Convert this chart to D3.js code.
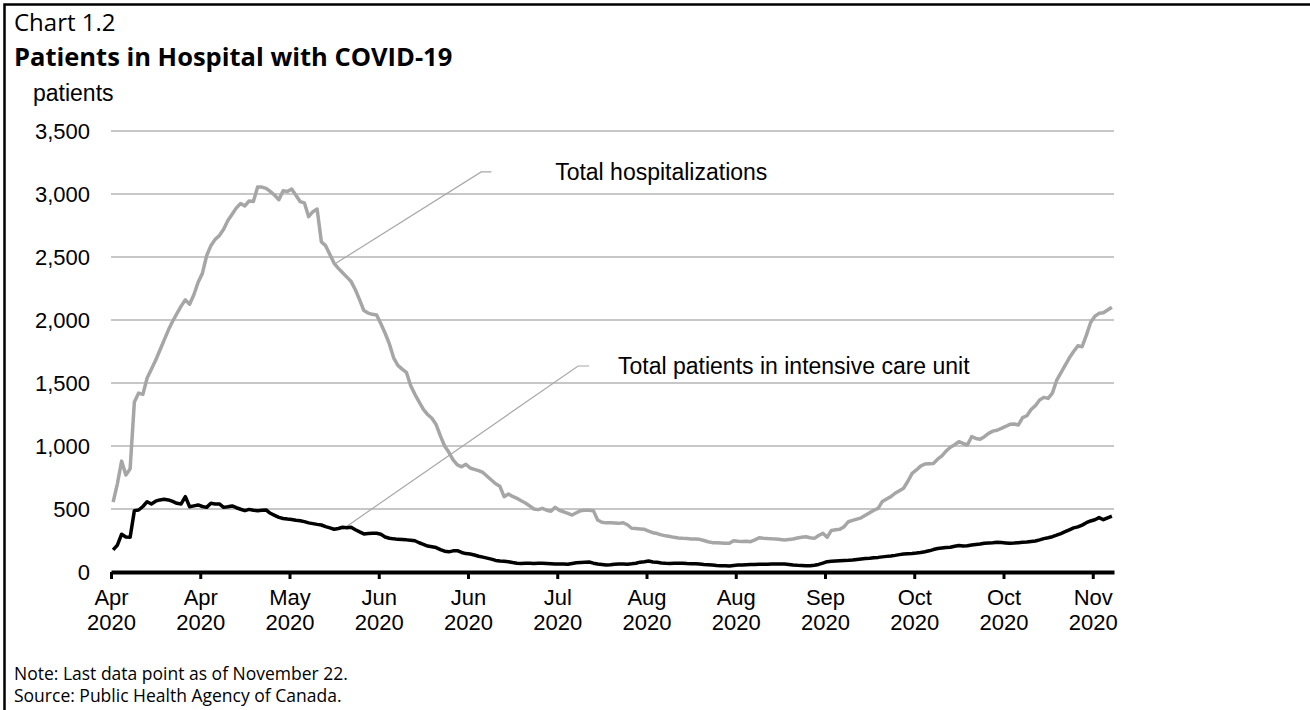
<!DOCTYPE html>
<html lang='en'>
  <meta charset='utf-8'>
  <style>
    body{
      margin: 0;
      background: #fff;
    }
    svg{
      display: block;
    }
    text{
      font-family: 'Liberation Sans', Arial, sans-serif;
      font-size: 22px;
      fill: #000;
    }
    text.head{
      font-family: 'Open Sans', 'Noto Sans', sans-serif;
    }
    text.big{
      font-size: 23px;
    }
    .grid line{
      stroke: #b4b4b4;
      stroke-width: 1.5;
    }
  </style>
  <body>
    <svg class='chart' width='1310' height='710'></svg>

    <script src='https://d3js.org/d3.v7.min.js'></script>
    <script>
      // daily values, Apr 1 2020 .. Nov 22 2020
      const hospitalized = [
        555, 700, 880, 770, 820, 1350, 1420, 1410, 1540, 1610,
        1680, 1760, 1840, 1920, 1990, 2050, 2110, 2160, 2125, 2200,
        2300, 2370, 2510, 2590, 2640, 2670, 2720, 2790, 2840, 2890,
        2925, 2905, 2945, 2940, 3055, 3055, 3045, 3020, 2990, 2955,
        3025, 3020, 3040, 2990, 2940, 2930, 2820, 2860, 2880, 2620,
        2590, 2520, 2450, 2410, 2375, 2340, 2305, 2240, 2160, 2075,
        2055, 2045, 2040, 1970, 1895, 1810, 1700, 1640, 1610, 1585,
        1480, 1410, 1350, 1290, 1250, 1220, 1170, 1080, 1000, 950,
        890, 850, 835, 855, 825, 815, 805, 790, 760, 730,
        700, 680, 598, 619, 600, 585, 565, 548, 525, 500,
        495, 505, 490, 482, 513, 490, 478, 465, 452, 470,
        487, 490, 490, 487, 413, 395, 390, 390, 388, 386,
        391, 375, 347, 345, 342, 339, 325, 312, 305, 295,
        287, 282, 275, 270, 267, 265, 262, 262, 259, 250,
        240, 233, 232, 230, 228, 228, 248, 244, 242, 244,
        241, 255, 272, 268, 265, 263, 262, 258, 254, 258,
        262, 270, 275, 280, 272, 267, 290, 307, 275, 330,
        335, 339, 360, 399, 410, 420, 430, 450, 470, 490,
        505, 560, 580, 598, 625, 645, 665, 720, 783, 810,
        840, 857, 860, 862, 895, 921, 960, 990, 1010, 1034,
        1020, 1008, 1074, 1060, 1053, 1074, 1100, 1118, 1125, 1140,
        1155, 1172, 1175, 1167, 1225, 1240, 1290, 1320, 1365, 1386,
        1378, 1420, 1520, 1580, 1640, 1700, 1750, 1795, 1788, 1880,
        1980, 2030, 2053, 2058, 2080, 2101
      ]
      const icu = [
        175, 214, 300, 278, 275, 487, 492, 520, 558, 540,
        562, 572, 577, 572, 560, 545, 540, 598, 518, 525,
        532, 520, 513, 545, 540, 540, 513, 518, 524, 510,
        498, 487, 497, 490, 487, 490, 492, 466, 450, 434,
        425, 420, 416, 410, 407, 400, 390, 384, 378, 373,
        360, 350, 339, 345, 355, 352, 355, 335, 318, 302,
        305, 307, 307, 300, 278, 268, 263, 259, 257, 255,
        252, 248, 232, 220, 206, 200, 194, 178, 165, 160,
        168, 169, 155, 146, 143, 135, 125, 118, 110, 102,
        92, 88, 85, 82, 75, 69, 68, 70, 69, 68,
        70, 69, 67, 65, 63, 64, 63, 62, 68, 74,
        76, 78, 79, 70, 63, 60, 56, 58, 62, 63,
        63, 62, 65, 69, 78, 82, 87, 80, 77, 72,
        69, 68, 69, 70, 69, 67, 66, 65, 63, 60,
        58, 56, 52, 50, 49, 48, 52, 55, 56, 58,
        60, 60, 61, 62, 62, 63, 63, 64, 63, 60,
        56, 53, 52, 50, 50, 54, 60, 70, 82, 85,
        88, 90, 92, 93, 95, 100, 104, 108, 110, 113,
        116, 120, 124, 127, 132, 138, 143, 145, 147, 150,
        155, 161, 168, 178, 186, 190, 194, 196, 204, 210,
        206, 208, 214, 218, 222, 228, 230, 232, 236, 234,
        231, 228, 230, 233, 236, 238, 242, 246, 255, 265,
        272, 280, 292, 305, 320, 335, 350, 358, 372, 391,
        405, 415, 432, 415, 430, 444
      ]
      const yTicks = [0, 500, 1000, 1500, 2000, 2500, 3000, 3500]
      const tickStepDays = 21
      const tickCount = 12

      // labels with leader lines, in days after Apr 1 and patients
      const hospLabel = {text: 'Total hospitalizations', at: [104, 3175], leader: [[52.4, 2450], [86.6, 3175], [89, 3175]]}
      const icuLabel = {text: 'Total patients in intensive care unit', at: [118.8, 1635], leader: [[54, 340], [109.4, 1635], [112, 1635]]}

      const start = Date.UTC(2020, 3, 1)
      const DAY = 864e5
      const dayToDate = (d) => new Date(start + (d + 0.5) * DAY)

      const svg = d3.select('svg.chart')

      const x = d3.scaleUtc()
        .domain([new Date(start), new Date(Date.UTC(2020, 10, 23))])
        .range([111, 1114])
      const y = d3.scaleLinear()
        .domain([0, 3500])
        .range([572, 131])

      // frame
      svg.append('rect')
        .attr('x', 4.5).attr('y', 4.5)
        .attr('width', 1400).attr('height', 800)
        .attr('fill', 'none')
        .attr('stroke', '#000')
        .attr('stroke-width', 2.5)

      // heading
      svg.append('text').attr('class', 'head')
        .attr('x', 14).attr('y', 31)
        .style('font-size', '24px')
        .text('Chart 1.2')
      svg.append('text').attr('class', 'head')
        .attr('x', 14).attr('y', 66)
        .style('font-size', '25.5px')
        .style('font-weight', 'bold')
        .text('Patients in Hospital with COVID-19')
      svg.append('text').attr('class', 'big')
        .attr('x', 33).attr('y', 101)
        .text('patients')

      // gridlines
      svg.append('g').attr('class', 'grid')
        .selectAll('line')
        .data(yTicks.filter(v => v > 0))
        .join('line')
        .attr('x1', x.range()[0]).attr('x2', x.range()[1])
        .attr('y1', d => y(d)).attr('y2', d => y(d))

      // y labels
      const fmt = d3.format(',')
      svg.append('g')
        .selectAll('text')
        .data(yTicks)
        .join('text')
        .attr('x', 90)
        .attr('y', d => y(d))
        .attr('dy', '0.36em')
        .attr('text-anchor', 'end')
        .text(d => fmt(d))

      // leader lines
      const line = d3.line()
        .x(d => x(dayToDate(d[0])))
        .y(d => y(d[1]))
      ;[hospLabel, icuLabel].forEach((lab) => {
        svg.append('path')
          .attr('d', line(lab.leader))
          .attr('fill', 'none')
          .attr('stroke', '#a8a8a8')
          .attr('stroke-width', 1.2)
        svg.append('text').attr('class', 'big')
          .attr('x', x(dayToDate(lab.at[0])))
          .attr('y', y(lab.at[1]))
          .attr('dy', '0.35em')
          .text(lab.text)
      })

      // series
      const seriesLine = d3.line()
        .x((d, i) => x(dayToDate(i)))
        .y(d => y(d))
      svg.append('path')
        .attr('d', seriesLine(hospitalized))
        .attr('fill', 'none')
        .attr('stroke', '#a6a6a6')
        .attr('stroke-width', 3.5)
        .attr('stroke-linejoin', 'round')
      svg.append('path')
        .attr('d', seriesLine(icu))
        .attr('fill', 'none')
        .attr('stroke', '#000')
        .attr('stroke-width', 3.5)
        .attr('stroke-linejoin', 'round')

      // x axis
      const tickDates = d3.range(tickCount).map(i => new Date(start + i * tickStepDays * DAY))
      const xAxis = svg.append('g')
        .attr('transform', `translate(0,${y(0)})`)
        .call(d3.axisBottom(x)
          .tickValues(tickDates)
          .tickSize(7)
          .tickSizeOuter(0)
          .tickFormat(''))
      xAxis.select('.domain')
        .attr('stroke', '#000')
        .attr('stroke-width', 4)
      xAxis.selectAll('.tick line')
        .attr('stroke', '#000')
        .attr('stroke-width', 3)
      xAxis.selectAll('.tick text').remove()
      const monthFmt = d3.utcFormat('%b')
      const yearFmt = d3.utcFormat('%Y')
      const labels = xAxis.selectAll('.tick')
        .append('text')
        .attr('text-anchor', 'middle')
        .attr('y', 33)
      labels.append('tspan').attr('x', 0).text(d => monthFmt(d))
      labels.append('tspan').attr('x', 0).attr('dy', 25).text(d => yearFmt(d))

      // notes
      svg.append('text').attr('class', 'head')
        .attr('x', 14).attr('y', 680)
        .style('font-size', '17.5px')
        .text('Note: Last data point as of November 22.')
      svg.append('text').attr('class', 'head')
        .attr('x', 14).attr('y', 702)
        .style('font-size', '17.5px')
        .text('Source: Public Health Agency of Canada.')
    </script>
  </body>
</html>
